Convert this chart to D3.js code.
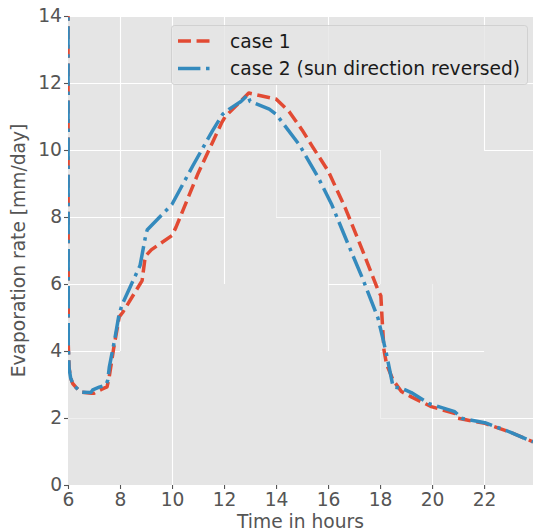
<!DOCTYPE html>
<html>
<head>
<meta charset="utf-8">
<script src="https://cdn.jsdelivr.net/npm/d3@7"></script>
<style>
  html, body { margin: 0; padding: 0; background: #ffffff; }
  svg { display: block; font-family: "DejaVu Sans", sans-serif; }
</style>
</head>
<body>
<svg id="chart" width="533" height="531"></svg>
<script>
// Evaporation rate over the day, two model cases
const hoursCase1 = [6.00, 6.01, 6.04, 6.10, 6.18, 6.30, 6.50, 6.90, 7.00, 7.30, 7.50, 7.58, 7.75, 7.97, 8.10, 8.85, 8.95, 9.00, 9.20, 10.00, 10.15, 11.00, 11.90, 12.05, 12.95, 14.00, 14.50, 15.00, 15.40, 16.00, 16.65, 17.30, 17.92, 18.03, 18.08, 18.15, 18.25, 18.50, 18.82, 19.20, 19.97, 20.90, 21.00, 22.03, 23.00, 23.88];
const evapCase1  = [14.8, 4.20, 3.50, 3.20, 3.03, 2.92, 2.77, 2.74, 2.74, 2.86, 2.93, 3.20, 4.05, 5.02, 5.15, 6.10, 6.70, 6.85, 7.02, 7.45, 7.69, 9.30, 10.80, 11.00, 11.70, 11.52, 11.15, 10.60, 10.10, 9.38, 8.29, 7.05, 5.82, 5.65, 4.93, 4.03, 3.60, 3.13, 2.79, 2.63, 2.34, 2.13, 1.99, 1.84, 1.58, 1.29];

const hoursCase2 = [6.00, 6.01, 6.04, 6.10, 6.18, 6.30, 6.50, 6.88, 6.95, 7.20, 7.46, 7.53, 7.59, 7.78, 7.97, 8.10, 8.77, 9.00, 9.05, 10.00, 10.80, 11.56, 11.95, 12.20, 12.65, 12.91, 13.00, 13.74, 14.00, 14.90, 15.62, 16.13, 16.77, 17.35, 17.92, 18.12, 18.24, 18.50, 18.82, 19.20, 19.91, 20.87, 21.00, 21.13, 22.03, 23.00, 23.88];
const evapCase2  = [14.8, 4.20, 3.50, 3.20, 3.03, 2.92, 2.77, 2.76, 2.84, 2.92, 2.99, 3.13, 3.53, 4.28, 5.12, 5.42, 6.55, 7.50, 7.62, 8.38, 9.53, 10.58, 11.07, 11.22, 11.45, 11.64, 11.45, 11.22, 11.07, 10.15, 9.18, 8.39, 7.19, 6.12, 4.98, 4.33, 3.93, 2.93, 2.89, 2.76, 2.42, 2.19, 2.09, 1.99, 1.86, 1.58, 1.29];

const seriesNames = ["case 1", "case 2 (sun direction reversed)"];
const xTicks = [6, 8, 10, 12, 14, 16, 18, 20, 22];
const yTicks = [0, 2, 4, 6, 8, 10, 12, 14];
const xDomain = [6, 23.88];
const yDomain = [0, 14];

// Grid pieces: [position, from, to, strength]
const gridVertical = [
  [8, 4, 14, 1], [10, 0, 14, 1], [12, 6, 14, 1],
  [14, 10, 12, 1], [14, 8, 10, 0.45],
  [16, 10, 14, 1], [16, 8, 10, 0.45], [16, 4, 8, 0.8],
  [18, 6, 10, 0.6], [18, 2, 4, 0.4],
  [20, 0, 4, 1], [20, 4, 6, 0.4],
  [22, 10, 14, 1], [22, 0, 2, 1]
];
const gridHorizontal = [
  [14, 6, 23.88, 1], [12, 6, 23.88, 1],
  [10, 6, 16, 1], [10, 16, 18, 0.45], [10, 22, 23.88, 1],
  [8, 6, 12, 1], [8, 14, 18, 0.8],
  [6, 6, 10, 1], [6, 16, 18, 1],
  [4, 6, 8, 1], [4, 18, 22, 1],
  [2, 6, 8, 0.4], [2, 18, 20, 0.4], [2, 20, 23.88, 1]
];

const colors = ["#E24A33", "#348ABD"];
const lw = 3.5;
const dashes = [`${3.7 * lw},${1.6 * lw}`, `${6.4 * lw},${1.6 * lw},${1 * lw},${1.6 * lw}`];

const svg = d3.select("#chart");
const plot = { left: 68, right: 533, top: 16, bottom: 485 };

const x = d3.scaleLinear().domain(xDomain).range([plot.left, plot.right]);
const y = d3.scaleLinear().domain(yDomain).range([plot.bottom, plot.top]);

// axes background
svg.append("rect")
  .attr("x", plot.left).attr("y", plot.top)
  .attr("width", plot.right - plot.left).attr("height", plot.bottom - plot.top)
  .attr("fill", "#E5E5E5");

svg.append("clipPath").attr("id", "plot-clip")
  .append("rect")
  .attr("x", plot.left).attr("y", plot.top)
  .attr("width", plot.right - plot.left).attr("height", plot.bottom - plot.top);

// grid
const grid = svg.append("g").attr("clip-path", "url(#plot-clip)");
grid.selectAll("line.v").data(gridVertical).join("line")
  .attr("class", "v")
  .attr("x1", d => Math.round(x(d[0])) + 0.5).attr("x2", d => Math.round(x(d[0])) + 0.5)
  .attr("y1", d => y(d[1])).attr("y2", d => y(d[2]))
  .attr("stroke", "#ffffff").attr("stroke-width", 1.1)
  .attr("stroke-opacity", d => d[3]);
grid.selectAll("line.h").data(gridHorizontal).join("line")
  .attr("class", "h")
  .attr("y1", d => Math.round(y(d[0])) + 0.5).attr("y2", d => Math.round(y(d[0])) + 0.5)
  .attr("x1", d => x(d[1])).attr("x2", d => x(d[2]))
  .attr("stroke", "#ffffff").attr("stroke-width", 1.1)
  .attr("stroke-opacity", d => d[3]);

// axes
const tickFont = "18.67px";
const xAxis = svg.append("g")
  .attr("transform", `translate(0,${plot.bottom})`)
  .call(d3.axisBottom(x).tickValues(xTicks).tickSize(4).tickPadding(4).tickFormat(d3.format("d")));
const yAxis = svg.append("g")
  .attr("transform", `translate(${plot.left},0)`)
  .call(d3.axisLeft(y).tickValues(yTicks).tickSize(4).tickPadding(5).tickFormat(d3.format("d")));
[xAxis, yAxis].forEach(a => {
  a.select(".domain").remove();
  a.selectAll(".tick line").attr("stroke", "#555555").attr("stroke-width", 1.1);
  a.selectAll(".tick text")
    .attr("fill", "#555555")
    .style("font-size", tickFont)
    .style("font-family", "DejaVu Sans");
});
yAxis.selectAll(".tick text").attr("x", -6);

// series
const series = [
  { hours: hoursCase1, evap: evapCase1 },
  { hours: hoursCase2, evap: evapCase2 }
];
const line = d3.line().x(d => x(d[0])).y(d => y(d[1]));
const lines = svg.append("g").attr("clip-path", "url(#plot-clip)");
series.forEach((s, i) => {
  lines.append("path")
    .datum(d3.zip(s.hours, s.evap))
    .attr("d", line)
    .attr("fill", "none")
    .attr("stroke", colors[i])
    .attr("stroke-width", lw)
    .attr("stroke-dasharray", dashes[i])
    .attr("stroke-linecap", "butt")
    .attr("stroke-linejoin", "round");
});

// axis labels
svg.append("text")
  .attr("x", (plot.left + plot.right) / 2).attr("y", 528)
  .attr("text-anchor", "middle")
  .attr("fill", "#555555")
  .style("font-size", "18.67px")
  .text("Time in hours");
svg.append("text")
  .attr("transform", `translate(25,${(plot.top + plot.bottom) / 2}) rotate(-90)`)
  .attr("text-anchor", "middle")
  .attr("fill", "#555555")
  .style("font-size", "18.67px")
  .text("Evaporation rate [mm/day]");

// legend
const legend = svg.append("g");
legend.append("rect")
  .attr("x", 171.5).attr("y", 25.5).attr("width", 356).attr("height", 59)
  .attr("rx", 3).attr("ry", 3)
  .attr("fill", "#E5E5E5").attr("fill-opacity", 0.8)
  .attr("stroke", "#CCCCCC").attr("stroke-opacity", 0.8).attr("stroke-width", 1);
seriesNames.forEach((name, i) => {
  const ly = 41 + i * 27.5;
  legend.append("line")
    .attr("x1", 178).attr("x2", 215).attr("y1", ly).attr("y2", ly)
    .attr("stroke", colors[i]).attr("stroke-width", lw)
    .attr("stroke-dasharray", dashes[i]);
  legend.append("text")
    .attr("x", 230).attr("y", ly + 6.8)
    .attr("fill", "#1a1a1a")
    .style("font-size", "18.67px")
    .text(name);
});
</script>
</body>
</html>
